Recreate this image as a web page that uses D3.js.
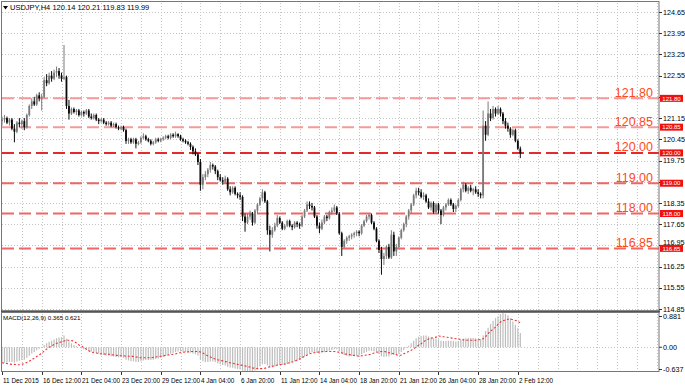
<!DOCTYPE html>
<html>
<head>
<script src="https://cdn.jsdelivr.net/npm/d3@7"></script>
<style>
  body{margin:0;background:#fff;font-family:"Liberation Sans",Arial,sans-serif;}
</style>
</head>
<body>
<div id="chart"></div>
<script>
// USDJPY H4 candles, [open, high, low, close]
var candles = [
[121.05,121.2,120.9,121.1],[121.1,121.25,121.0,121.15],[121.15,121.2,120.95,121.0],[121.0,121.15,120.9,121.1],
[121.1,121.15,120.75,120.8],[120.8,120.95,120.35,120.7],[120.7,121.05,120.65,121.0],[121.0,121.15,120.85,120.95],
[120.95,121.1,120.8,121.05],[121.05,121.15,120.75,120.85],[120.85,121.3,120.8,121.25],[121.25,121.6,121.2,121.55],
[121.55,121.8,121.45,121.7],[121.7,121.85,121.55,121.6],[121.6,121.95,121.55,121.9],[121.9,122.0,121.7,121.8],
[121.8,121.95,121.4,121.85],[121.85,122.5,121.8,122.4],[122.4,122.6,122.2,122.3],[122.3,122.65,122.25,122.55],
[122.55,122.7,122.35,122.45],[122.45,122.75,122.4,122.65],[122.65,122.85,122.5,122.7],[122.7,122.8,122.45,122.55],
[122.55,122.65,122.35,122.45],[122.45,123.56,122.4,122.5],[122.5,122.55,121.45,121.55],[121.55,121.75,121.1,121.3],
[121.3,121.5,121.25,121.45],[121.45,121.5,121.3,121.35],[121.35,121.45,121.25,121.4],[121.4,121.45,121.2,121.25],
[121.25,121.4,121.2,121.35],[121.35,121.4,121.2,121.3],[121.3,121.45,121.25,121.4],[121.4,121.45,121.15,121.2],
[121.2,121.3,121.1,121.15],[121.15,121.3,121.1,121.25],[121.25,121.3,121.05,121.1],[121.1,121.15,120.95,121.05],
[121.05,121.15,121.0,121.1],[121.1,121.15,120.95,121.0],[121.0,121.05,120.9,120.95],[120.95,121.05,120.9,121.0],
[121.0,121.05,120.85,120.9],[120.9,121.0,120.85,120.95],[120.95,121.0,120.8,120.85],[120.85,120.9,120.75,120.8],
[120.8,120.9,120.75,120.85],[120.85,120.9,120.7,120.75],[120.75,120.8,120.3,120.4],[120.4,120.5,120.3,120.45],
[120.45,120.5,120.3,120.35],[120.35,120.5,120.3,120.45],[120.45,120.5,120.15,120.3],[120.3,120.4,120.25,120.35],
[120.35,120.55,120.3,120.5],[120.5,120.65,120.45,120.55],[120.55,120.6,120.4,120.45],[120.45,120.5,120.35,120.4],
[120.4,120.45,120.25,120.3],[120.3,120.4,120.25,120.35],[120.35,120.5,120.3,120.45],[120.45,120.5,120.35,120.4],
[120.4,120.5,120.35,120.45],[120.45,120.55,120.4,120.5],[120.5,120.6,120.45,120.55],[120.55,120.6,120.45,120.5],
[120.5,120.65,120.45,120.6],[120.6,120.65,120.5,120.55],[120.55,120.7,120.5,120.62],[120.62,120.65,120.5,120.55],
[120.55,120.6,120.4,120.45],[120.45,120.5,120.35,120.4],[120.4,120.45,120.3,120.35],[120.35,120.4,120.25,120.3],
[120.3,120.35,120.1,120.2],[120.2,120.25,119.95,120.05],[120.05,120.15,119.9,119.95],[119.95,120.0,119.6,119.7],
[119.7,119.8,118.75,118.95],[118.95,119.3,118.8,119.2],[119.2,119.4,119.1,119.3],[119.3,119.5,119.2,119.45],
[119.45,119.7,119.35,119.6],[119.6,119.65,119.45,119.55],[119.55,119.6,119.3,119.4],[119.4,119.45,119.1,119.2],
[119.2,119.3,119.05,119.1],[119.1,119.2,118.95,119.05],[119.05,119.25,119.0,119.15],[119.15,119.2,118.75,118.8],
[118.8,118.9,118.6,118.7],[118.7,118.9,118.65,118.85],[118.85,118.9,118.6,118.65],[118.65,118.7,118.5,118.6],
[118.6,118.7,118.45,118.55],[118.55,118.6,117.75,117.9],[117.9,118.0,117.4,117.7],[117.7,118.0,117.65,117.9],
[117.9,118.1,117.8,118.0],[118.0,118.05,117.6,117.7],[117.7,118.15,117.65,118.1],[118.1,118.35,118.0,118.3],
[118.3,118.55,118.25,118.5],[118.5,118.8,118.4,118.7],[118.7,118.75,118.35,118.4],[118.4,118.45,117.3,117.45],
[117.45,117.6,116.75,117.3],[117.3,117.55,117.2,117.45],[117.45,117.7,117.4,117.6],[117.6,117.95,117.55,117.85],
[117.85,117.9,117.65,117.7],[117.7,117.75,117.45,117.5],[117.5,117.65,117.45,117.6],[117.6,117.8,117.55,117.75],
[117.75,117.8,117.55,117.6],[117.6,117.65,117.45,117.55],[117.55,117.75,117.5,117.7],[117.7,117.75,117.55,117.65],
[117.65,117.7,117.5,117.6],[117.6,117.95,117.55,117.9],[117.9,118.15,117.85,118.1],[118.1,118.4,118.05,118.3],
[118.3,118.4,118.15,118.25],[118.25,118.35,118.1,118.2],[118.2,118.25,117.85,117.9],[117.9,117.95,117.5,117.6],
[117.6,117.7,117.35,117.5],[117.5,117.8,117.45,117.7],[117.7,117.95,117.65,117.9],[117.9,117.95,117.75,117.85],
[117.85,118.1,117.8,118.05],[118.05,118.2,117.95,118.1],[118.1,118.3,118.05,118.2],[118.2,118.25,117.95,118.0],
[118.0,118.05,117.3,117.35],[117.35,117.4,116.6,116.9],[116.9,117.15,116.85,117.1],[117.1,117.25,117.0,117.2],
[117.2,117.3,117.1,117.25],[117.25,117.35,117.15,117.3],[117.3,117.4,117.2,117.35],[117.35,117.45,117.25,117.4],
[117.4,117.45,117.25,117.35],[117.35,117.65,117.3,117.6],[117.6,117.8,117.55,117.75],[117.75,117.95,117.7,117.9],
[117.9,118.0,117.8,117.95],[117.95,118.0,117.65,117.7],[117.7,117.75,117.45,117.5],[117.5,117.55,117.05,117.1],
[117.1,117.15,116.7,116.8],[116.8,116.9,115.98,116.5],[116.5,116.7,116.3,116.6],[116.6,116.95,116.5,116.9],
[116.9,117.0,116.5,116.55],[116.55,117.45,116.5,117.3],[117.3,117.4,116.6,116.75],[116.75,117.0,116.6,116.9],
[116.9,117.25,116.85,117.2],[117.2,117.5,117.15,117.45],[117.45,117.7,117.4,117.65],[117.65,117.95,117.55,117.9],
[117.9,118.15,117.8,118.1],[118.1,118.35,118.0,118.3],[118.3,118.65,118.25,118.6],[118.6,118.85,118.5,118.75],
[118.75,118.85,118.6,118.7],[118.7,118.8,118.5,118.55],[118.55,118.7,118.45,118.6],[118.6,118.65,118.35,118.4],
[118.4,118.5,118.15,118.2],[118.2,118.4,118.1,118.35],[118.35,118.4,118.0,118.05],[118.05,118.35,118.0,118.3],
[118.3,118.35,118.0,118.1],[118.1,118.15,117.65,117.95],[117.95,118.25,117.9,118.2],[118.2,118.35,118.1,118.3],
[118.3,118.5,118.25,118.45],[118.45,118.5,118.25,118.3],[118.3,118.35,118.05,118.15],[118.15,118.3,118.05,118.25],
[118.25,118.5,118.2,118.45],[118.45,118.85,118.4,118.8],[118.8,119.05,118.7,118.95],[118.95,119.0,118.7,118.75],
[118.75,118.9,118.65,118.85],[118.85,118.95,118.7,118.75],[118.75,118.85,118.6,118.8],[118.8,118.9,118.65,118.7],
[118.7,118.8,118.55,118.65],[118.65,118.7,118.5,118.6],[118.6,121.4,118.5,120.9],[120.9,121.05,120.4,120.6],
[120.6,121.7,120.55,121.3],[121.3,121.45,121.05,121.15],[121.15,121.55,121.1,121.45],[121.45,121.5,121.2,121.3],
[121.3,121.55,121.25,121.45],[121.45,121.5,121.2,121.3],[121.3,121.35,120.95,121.05],[121.05,121.15,120.8,120.9],
[120.9,121.0,120.7,120.8],[120.8,120.85,120.5,120.6],[120.6,120.8,120.55,120.75],[120.75,120.8,120.35,120.4],
[120.4,120.45,120.1,120.14],[120.14,120.21,119.83,119.99]
]

// MACD(12,26,9): main line drawn as histogram, signal as dotted line
var macdMain = [
-0.40,-0.40,-0.39,-0.38,-0.38,-0.39,-0.37,-0.35,-0.33,-0.32,
-0.28,-0.22,-0.16,-0.12,-0.08,-0.04,0.0,0.06,0.10,0.14,
0.17,0.20,0.23,0.25,0.26,0.30,0.22,0.15,0.10,0.06,
0.03,0.0,-0.03,-0.05,-0.06,-0.09,-0.11,-0.12,-0.15,-0.17,
-0.18,-0.20,-0.21,-0.22,-0.23,-0.24,-0.25,-0.26,-0.26,-0.27,
-0.32,-0.34,-0.36,-0.36,-0.38,-0.38,-0.36,-0.34,-0.33,-0.33,
-0.33,-0.32,-0.30,-0.29,-0.27,-0.25,-0.22,-0.20,-0.17,-0.15,
-0.12,-0.11,-0.11,-0.11,-0.12,-0.12,-0.14,-0.16,-0.18,-0.21,
-0.32,-0.36,-0.38,-0.38,-0.37,-0.37,-0.38,-0.42,-0.44,-0.46,
-0.47,-0.50,-0.52,-0.53,-0.55,-0.56,-0.57,-0.60,-0.63,-0.637,
-0.63,-0.62,-0.60,-0.55,-0.49,-0.44,-0.43,-0.47,-0.52,-0.52,
-0.50,-0.47,-0.46,-0.46,-0.45,-0.43,-0.42,-0.38,-0.36,-0.34,
-0.32,-0.28,-0.24,-0.19,-0.15,-0.13,-0.13,-0.15,-0.16,-0.15,
-0.13,-0.11,-0.09,-0.07,-0.05,-0.05,-0.10,-0.17,-0.20,-0.22,
-0.23,-0.23,-0.23,-0.22,-0.21,-0.18,-0.15,-0.12,-0.09,-0.09,
-0.10,-0.13,-0.18,-0.23,-0.25,-0.24,-0.24,-0.20,-0.20,-0.20,
-0.17,-0.12,-0.07,-0.02,0.04,0.10,0.17,0.23,0.27,0.29,
0.30,0.30,0.28,0.26,0.23,0.22,0.20,0.17,0.16,0.16,
0.17,0.17,0.16,0.15,0.16,0.19,0.22,0.23,0.24,0.24,
0.24,0.23,0.22,0.20,0.30,0.42,0.50,0.60,0.68,0.75,
0.80,0.85,0.881,0.86,0.82,0.75,0.66,0.58,0.49,0.365
]
var macdSignal = [
-0.40,-0.41,-0.42,-0.43,-0.44,-0.44,-0.45,-0.45,
-0.44,-0.42,-0.39,-0.36,-0.32,-0.28,-0.24,-0.20,
-0.15,-0.10,-0.05,0.0,0.04,0.07,0.10,0.12,
0.14,0.16,0.18,0.18,0.17,0.15,0.11,0.06,
0.03,-0.01,-0.05,-0.09,-0.12,-0.14,-0.15,-0.16,
-0.17,-0.17,-0.18,-0.18,-0.19,-0.20,-0.21,-0.21,
-0.22,-0.22,-0.23,-0.23,-0.23,-0.24,-0.25,-0.26,
-0.27,-0.27,-0.27,-0.27,-0.27,-0.26,-0.25,-0.24,
-0.23,-0.22,-0.21,-0.20,-0.19,-0.18,-0.17,-0.15,
-0.14,-0.13,-0.12,-0.12,-0.11,-0.11,-0.11,-0.11,
-0.12,-0.15,-0.19,-0.22,-0.25,-0.28,-0.30,-0.32,
-0.34,-0.35,-0.37,-0.38,-0.40,-0.41,-0.43,-0.44,
-0.45,-0.47,-0.48,-0.50,-0.51,-0.53,-0.54,-0.55,
-0.55,-0.55,-0.54,-0.52,-0.50,-0.49,-0.47,-0.46,
-0.45,-0.44,-0.43,-0.41,-0.40,-0.38,-0.36,-0.33,
-0.30,-0.27,-0.23,-0.20,-0.17,-0.15,-0.14,-0.13,
-0.12,-0.11,-0.11,-0.11,-0.11,-0.11,-0.11,-0.12,
-0.13,-0.14,-0.17,-0.18,-0.19,-0.20,-0.21,-0.22,
-0.23,-0.22,-0.21,-0.20,-0.19,-0.17,-0.15,-0.13,
-0.12,-0.11,-0.11,-0.12,-0.14,-0.15,-0.17,-0.19,
-0.21,-0.20,-0.17,-0.14,-0.11,-0.08,-0.04,0.01,
0.05,0.09,0.14,0.18,0.21,0.23,0.25,0.26,
0.29,0.28,0.27,0.26,0.25,0.24,0.23,0.22,
0.21,0.20,0.19,0.18,0.18,0.18,0.18,0.18,
0.19,0.20,0.22,0.27,0.35,0.41,0.47,0.52,
0.59,0.65,0.68,0.70,0.72,0.72,0.71,0.69,0.67,0.621
]

var priceTicks = [124.65,123.95,123.25,122.55,121.85,121.15,120.45,119.75,119.05,118.35,117.65,116.95,116.25,115.55,114.85]
var macdTicks = [0.881, 0.00, -0.637]
var timeLabels = ["11 Dec 2015","16 Dec 12:00","21 Dec 04:00","23 Dec 20:00","29 Dec 12:00","4 Jan 04:00","6 Jan 20:00",
                  "11 Jan 12:00","14 Jan 04:00","18 Jan 20:00","21 Jan 12:00","26 Jan 04:00","28 Jan 20:00","2 Feb 12:00"]
var levels = [121.80, 120.85, 120.00, 119.00, 118.00, 116.85]

var width = 685, height = 388
var left = 2, right = 659
var barStep = 2.48
var barsPerLabel = 16
var barsPerGrid = 8

var xScale = d3.scaleLinear().domain([0, 265]).range([left, left + 265 * barStep])
var yScale = d3.scaleLinear().domain([114.85, 124.65]).range([309, 12])
var mScale = d3.scaleLinear().domain([-0.637, 0.881]).range([372, 313])

var svg = d3.select("#chart").append("svg")
    .attr("width", width).attr("height", height)
    .style("font-family", "'Liberation Sans',Arial,sans-serif")

// grid
var gridBars = d3.range(barsPerGrid, 266, barsPerGrid)
var grid = svg.append("g").attr("stroke", "#c4c4c4").attr("stroke-width", 1).attr("stroke-dasharray", "1,2")
grid.selectAll(".vg").data(gridBars).enter().append("line")
    .attr("x1", d => Math.round(xScale(d)) + 0.5).attr("x2", d => Math.round(xScale(d)) + 0.5)
    .attr("y1", 3).attr("y2", 310)
grid.selectAll(".vg2").data(gridBars).enter().append("line")
    .attr("x1", d => Math.round(xScale(d)) + 0.5).attr("x2", d => Math.round(xScale(d)) + 0.5)
    .attr("y1", 314).attr("y2", 371)
grid.selectAll(".hg").data(priceTicks).enter().append("line")
    .attr("x1", left).attr("x2", right)
    .attr("y1", d => Math.round(yScale(d)) + 0.5).attr("y2", d => Math.round(yScale(d)) + 0.5)
grid.append("line").attr("x1", left).attr("x2", right)
    .attr("y1", Math.round(mScale(0)) + 0.5).attr("y2", Math.round(mScale(0)) + 0.5)

// support / resistance levels
function levelColor(v){ return v == 120 ? "#e8282a" : (v > 120 ? "#f59a9a" : "#f06666") }
svg.selectAll(".lvl").data(levels).enter().append("line")
    .attr("x1", left).attr("x2", right)
    .attr("y1", d => yScale(d)).attr("y2", d => yScale(d))
    .attr("stroke", levelColor).attr("stroke-width", 2).attr("stroke-dasharray", "12,5")

// candles
var cw = 1.8
var cg = svg.append("g")
candles.forEach(function(c, i){
    var x = xScale(i)
    var up = c[3] >= c[0]
    var col = up ? "#7a7a7a" : "#0a0a0a"
    cg.append("line").attr("x1", x).attr("x2", x)
        .attr("y1", yScale(c[1])).attr("y2", yScale(c[2]))
        .attr("stroke", col).attr("stroke-width", 1)
    var top = yScale(Math.max(c[0], c[3])), bot = yScale(Math.min(c[0], c[3]))
    cg.append("rect").attr("x", x - cw / 2).attr("y", top)
        .attr("width", cw).attr("height", Math.max(0.8, bot - top)).attr("fill", col)
})

// level labels
svg.selectAll(".lvlt").data(levels).enter().append("text")
    .attr("x", 653).attr("y", d => yScale(d) - 1.5)
    .attr("text-anchor", "end").attr("font-size", 12.5).attr("fill", "#ff4a1a")
    .text(d => d.toFixed(2))

// MACD histogram + signal
svg.append("g").selectAll("line").data(macdMain).enter().append("line")
    .attr("x1", (d, i) => xScale(i)).attr("x2", (d, i) => xScale(i))
    .attr("y1", mScale(0)).attr("y2", d => mScale(d))
    .attr("stroke", "#bdbdbd").attr("stroke-width", 1.2)
svg.append("path").datum(macdSignal)
    .attr("d", d3.line().x((d, i) => xScale(i)).y(d => mScale(d)).curve(d3.curveMonotoneX))
    .attr("fill", "none").attr("stroke", "#f03030").attr("stroke-width", 1.1).attr("stroke-dasharray", "2,2")

// frames
svg.append("rect").attr("x", 1.5).attr("y", 1.5).attr("width", right - 1.5).attr("height", 309.5)
    .attr("fill", "none").attr("stroke", "#777")
svg.append("line").attr("x1", 1).attr("x2", right + 1).attr("y1", 311.5).attr("y2", 311.5)
    .attr("stroke", "#555").attr("stroke-width", 2)
svg.append("rect").attr("x", 1.5).attr("y", 312.5).attr("width", right - 1.5).attr("height", 59)
    .attr("fill", "none").attr("stroke", "#777")

// price axis; labels that sit under a level tag are hidden, as in the terminal
function tagY(v){ return yScale(v) }
var shown = priceTicks.filter(p => !levels.some(l => Math.abs(tagY(l) - yScale(p)) < 2.5))
var ax = svg.append("g").attr("font-size", 7.2).attr("fill", "#000")
ax.selectAll("line").data(priceTicks).enter().append("line")
    .attr("x1", right).attr("x2", right + 3)
    .attr("y1", d => Math.round(yScale(d)) + 0.5).attr("y2", d => Math.round(yScale(d)) + 0.5)
    .attr("stroke", "#333")
ax.selectAll("text").data(shown).enter().append("text")
    .attr("x", right + 4).attr("y", function(d){
        var y = yScale(d) + 2.6
        var near = levels.find(l => Math.abs(tagY(l) - yScale(d)) < 6)
        return near !== undefined ? Math.min(y, tagY(near) - 3.6) : y
    }).text(d => d.toFixed(2))

var mx = svg.append("g").attr("font-size", 7.2).attr("fill", "#000")
mx.selectAll("text").data(macdTicks).enter().append("text")
    .attr("x", right + 4)
    .attr("y", d => Math.min(369.5, Math.max(316.5, mScale(d))) + 2.6)
    .text(d => d == 0 ? "0.00" : String(d))
mx.selectAll("line").data(macdTicks).enter().append("line")
    .attr("x1", right).attr("x2", right + 3)
    .attr("y1", d => Math.min(369.5, Math.max(316.5, mScale(d)))).attr("y2", d => Math.min(369.5, Math.max(316.5, mScale(d))))
    .attr("stroke", "#333")

// level tags on the price axis
var tags = svg.append("g")
tags.selectAll("rect").data(levels).enter().append("rect")
    .attr("x", right + 1).attr("y", d => tagY(d) - 3.5).attr("width", 23).attr("height", 7).attr("fill", "#f01010")
tags.selectAll("text").data(levels).enter().append("text")
    .attr("x", right + 12.5).attr("y", d => tagY(d) + 2.2).attr("text-anchor", "middle")
    .attr("font-size", 6).attr("fill", "#fff").text(d => d.toFixed(2))

// time axis
var tx = svg.append("g").attr("font-size", 6.4).attr("fill", "#000")
timeLabels.forEach(function(t, k){
    var x = Math.round(xScale(k * barsPerLabel)) + 0.5
    tx.append("line").attr("x1", x).attr("x2", x).attr("y1", 372).attr("y2", 375).attr("stroke", "#333")
    tx.append("text").attr("x", x + 0.5).attr("y", 383).text(t)
})

// headers
svg.append("path").attr("d", "M3,6 L8,6 L5.5,9.5 Z").attr("fill", "#000")
svg.append("text").attr("x", 10).attr("y", 10).attr("font-size", 7.5).attr("fill", "#000")
    .text("USDJPY,H4  120.14 120.21 119.83 119.99")
svg.append("text").attr("x", 3).attr("y", 320).attr("font-size", 6.2).attr("fill", "#000")
    .text("MACD(12,26,9) 0.365 0.621")
</script>
</body>
</html>
